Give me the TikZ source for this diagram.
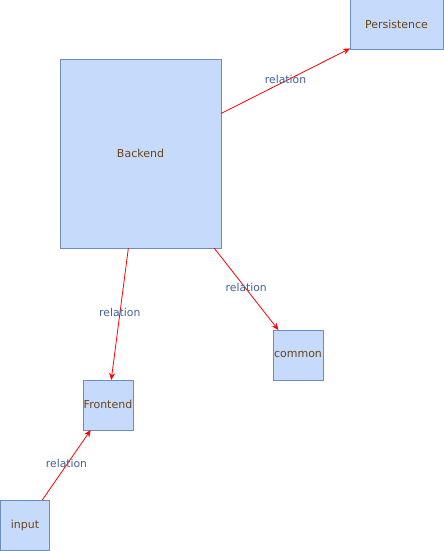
\documentclass[tikz,border=0pt]{standalone}
\usepackage{fontspec}
\setmainfont{DejaVu Sans}
\usetikzlibrary{arrows.meta}
\definecolor{boxfill}{HTML}{C6DAFC}
\definecolor{boxline}{HTML}{6C8EBF}
\definecolor{boxtext}{HTML}{6B4516}
\definecolor{reltext}{HTML}{41609A}
\newcommand{\boxtxt}[1]{\raisebox{2pt}{#1}}
\tikzset{
  x=1pt,y=-1pt,
  box/.style={draw=boxline, fill=boxfill, line width=1pt, inner sep=0pt, outer sep=0pt,
    text=boxtext, font=\fontsize{11}{12}\selectfont},
  rel/.style={draw=red, line width=0.8pt, -{Stealth[length=7pt,width=6pt]}},
  rellabel/.style={text=reltext, font=\fontsize{10.8}{12}\selectfont, inner sep=1pt, yshift=2pt}
}
\begin{document}
\begin{tikzpicture}
\useasboundingbox (0,0) rectangle (444,551);
\node[box, minimum width=93pt, minimum height=50pt] (pers) at (396.5,25) {\boxtxt{Persistence}};
\node[box, minimum width=161pt, minimum height=188pt] (back) at (140.5,154) {\boxtxt{Backend}};
\node[box, minimum width=50pt, minimum height=50pt] (common) at (298,355) {\boxtxt{common}};
\node[box, minimum width=50pt, minimum height=50pt] (front) at (108,405) {\boxtxt{Frontend}};
\node[box, minimum width=49pt, minimum height=50pt] (input) at (25,525) {\boxtxt{input}};
\draw[rel] (back) -- node[rellabel] {relation} (pers);
\draw[rel] (back) -- node[rellabel] {relation} (front);
\draw[rel] (back) -- node[rellabel] {relation} (common);
\draw[rel] (input) -- node[rellabel] {relation} (front);
\end{tikzpicture}
\end{document}
